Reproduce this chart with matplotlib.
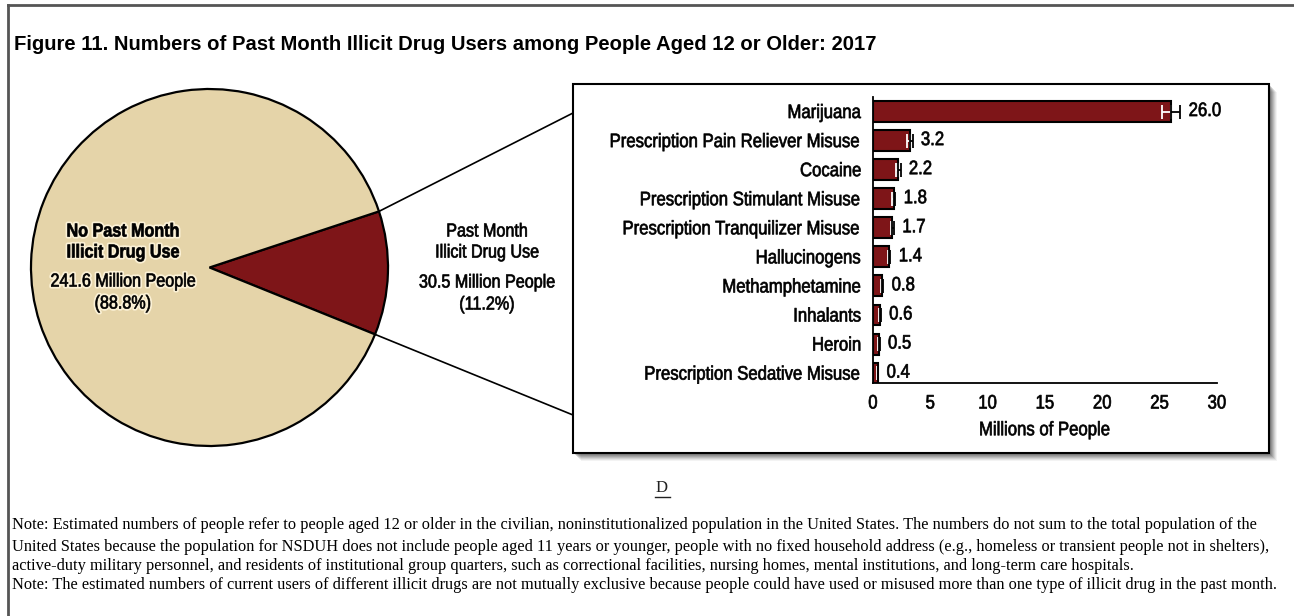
import matplotlib
matplotlib.use('Agg')
import matplotlib.pyplot as plt
import matplotlib.patheffects as pe
from matplotlib.patches import Rectangle, ConnectionPatch
from matplotlib.transforms import Affine2D
import numpy as np

# ── data ──
pie_millions = [30.5, 241.6]
pie_pct = [11.2, 88.8]

drugs = ['Marijuana', 'Prescription Pain Reliever Misuse', 'Cocaine',
         'Prescription Stimulant Misuse', 'Prescription Tranquilizer Misuse',
         'Hallucinogens', 'Methamphetamine', 'Inhalants', 'Heroin',
         'Prescription Sedative Misuse']
users = [26.0, 3.2, 2.2, 1.8, 1.7, 1.4, 0.8, 0.6, 0.5, 0.4]
ci_half = [0.8, 0.25, 0.2, 0.15, 0.13, 0.12, 0.1, 0.08, 0.08, 0.06]
x_ticks = [0, 5, 10, 15, 20, 25, 30]

TITLE = 'Figure 11. Numbers of Past Month Illicit Drug Users among People Aged 12 or Older: 2017'
NOTES = [
    'Note: Estimated numbers of people refer to people aged 12 or older in the civilian, noninstitutionalized population in the United States. The numbers do not sum to the total population of the',
    'United States because the population for NSDUH does not include people aged 11 years or younger, people with no fixed household address (e.g., homeless or transient people not in shelters),',
    'active-duty military personnel, and residents of institutional group quarters, such as correctional facilities, nursing homes, mental institutions, and long-term care hospitals.',
    'Note: The estimated numbers of current users of different illicit drugs are not mutually exclusive because people could have used or misused more than one type of illicit drug in the past month.',
]

RED = '#7E1518'
BEIGE = '#E5D4A9'
SANS = 'Liberation Sans'


class Squeeze(pe.AbstractPathEffect):
    """Narrow the glyphs horizontally (no condensed face installed)."""
    def __init__(self, sx=0.86, align='left', glow=None, thick=0.5):
        super().__init__()
        self.sx, self.align, self.glow, self.thick = sx, align, glow, thick

    def draw_path(self, renderer, gc, tpath, affine, rgbFace=None):
        x1 = tpath.get_extents().x1 if len(tpath.vertices) else 0
        anchor = {'left': 0, 'center': x1 / 2, 'right': x1}[self.align]
        sq = Affine2D().translate(-anchor, 0).scale(self.sx, 1).translate(anchor, 0)
        path = sq.transform_path(tpath)
        if self.glow:
            gc0 = renderer.new_gc()
            gc0.copy_properties(gc)
            gc0.set_foreground(self.glow)
            gc0.set_linewidth(3)
            renderer.draw_path(gc0, path, affine, rgbFace)
            gc0.restore()
        if self.thick:
            gc1 = renderer.new_gc()
            gc1.copy_properties(gc)
            gc1.set_foreground(rgbFace)
            gc1.set_linewidth(self.thick)
            renderer.draw_path(gc1, path, affine, rgbFace)
            gc1.restore()
        else:
            renderer.draw_path(gc, path, affine, rgbFace)


W, H = 1294, 616
fig = plt.figure(figsize=(W / 100, H / 100), dpi=100)
fig.patch.set_facecolor('white')

def fx(px):
    return px / W

def fy(py):
    return 1 - py / H

# outer frame (left + top only)
fig.add_artist(plt.Line2D([fx(8), fx(8)], [fy(5), 0], color='#555555', lw=2))
fig.add_artist(plt.Line2D([fx(8), 1], [fy(5), fy(5)], color='#555555', lw=2))

fig.text(fx(14), fy(44), TITLE, family=SANS, fontweight='bold',
         fontsize=14.6, va='center', ha='left')

# ── pie ──
cx, cy, r = 209.5, 267.5, 178.5
ax_pie = fig.add_axes([fx(cx - r), fy(cy + r), 2 * r / W, 2 * r / H])
start = -22
ax_pie.pie(pie_pct, colors=[RED, BEIGE], startangle=start, counterclock=True,
           wedgeprops=dict(edgecolor='black', linewidth=1.6))
ax_pie.set_xlim(-1, 1)
ax_pie.set_ylim(-1, 1)
ax_pie.set_aspect('auto')
ax_pie.axis('off')

left_lines = [('No Past Month', 'bold', 232), ('Illicit Drug Use', 'bold', 253),
              (f'{pie_millions[1]} Million People', 'normal', 282),
              (f'({pie_pct[1]}%)', 'normal', 304)]
for s, w, y in left_lines:
    fig.text(fx(123), fy(y), s, family=SANS, fontweight=w, fontsize=13.5,
             ha='center', va='center',
             path_effects=[Squeeze(0.86, 'center', glow='#FBF1D6')])
right_lines = [('Past Month', 'normal', 232), ('Illicit Drug Use', 'normal', 253),
               (f'{pie_millions[0]} Million People', 'normal', 283),
               (f'({pie_pct[0]}%)', 'normal', 305)]
for s, w, y in right_lines:
    fig.text(fx(487), fy(y), s, family=SANS, fontweight=w, fontsize=13.5,
             ha='center', va='center', path_effects=[Squeeze(0.86, 'center')])

# ── zoom box with shadow ──
bx0, by0, bx1, by1 = 573, 84, 1269, 453
for k, a in zip(range(8, 0, -1), np.linspace(0.06, 0.25, 8)):
    fig.add_artist(Rectangle((fx(bx0 + k), fy(by1 + k)), (bx1 - bx0) / W, (by1 - by0) / H,
                             transform=fig.transFigure, facecolor='#404040',
                             edgecolor='none', alpha=a, zorder=0))
fig.add_artist(Rectangle((fx(bx0), fy(by1)), (bx1 - bx0) / W, (by1 - by0) / H,
                         transform=fig.transFigure, facecolor='white',
                         edgecolor='black', lw=1.5, zorder=1))

# connector lines from wedge edges to the box
a1 = np.deg2rad(start + pie_pct[0] * 3.6)
a0 = np.deg2rad(start)
for ang, ypx in [(a1, 113), (a0, 415)]:
    con = ConnectionPatch(xyA=(np.cos(ang), np.sin(ang)), coordsA=ax_pie.transData,
                          xyB=(fx(bx0), fy(ypx)), coordsB=fig.transFigure,
                          color='black', lw=1.2, zorder=2)
    fig.add_artist(con)

# ── bar chart ──
ax = fig.add_axes([fx(873), fy(383), 344 / W, 286 / H], zorder=3)
ax.patch.set_alpha(0)
pos = np.arange(len(drugs))
ax.barh(pos, users, height=0.72, color=RED, edgecolor='black', linewidth=1.5, zorder=2)
ax.errorbar(users, pos, xerr=[ci_half, [0] * len(users)], fmt='none', ecolor='white',
            elinewidth=1.3, capsize=5, capthick=1.3, zorder=3)
ax.errorbar(users, pos, xerr=[[0] * len(users), ci_half], fmt='none', ecolor='black',
            elinewidth=1.3, capsize=5, capthick=1.3, zorder=3)
for p, v, e in zip(pos, users, ci_half):
    ax.annotate(f'{v:.1f}', (v + e, p), xytext=(6, 0), textcoords='offset points',
                va='center', ha='left', family=SANS, fontsize=14,
                path_effects=[Squeeze(0.86, 'left')])
ax.set_xlim(0, 30)
ax.set_ylim(9.34, -0.5)
ax.set_xticks(x_ticks)
ax.set_xticklabels([str(t) for t in x_ticks], family=SANS, fontsize=14)
ax.set_yticks(pos)
ax.set_yticklabels(drugs, family=SANS, fontsize=14)
for t in ax.get_yticklabels():
    t.set_path_effects([Squeeze(0.86, 'right')])
for t in ax.get_xticklabels():
    t.set_path_effects([Squeeze(0.86, 'center')])
ax.tick_params(length=0, pad=8)
ax.tick_params(axis='x', pad=9)
for s in ['top', 'right']:
    ax.spines[s].set_visible(False)
ax.spines['left'].set_linewidth(1.3)
ax.spines['bottom'].set_linewidth(1.3)
ax.set_xlabel('Millions of People', family=SANS, fontsize=14, labelpad=7,
              path_effects=[Squeeze(0.86, 'center')])

# ── footer ──
fig.text(fx(662), fy(488), 'D', family='Liberation Serif', fontsize=12,
         ha='center', va='center', color='#222222')
fig.add_artist(plt.Line2D([fx(655), fx(670)], [fy(497), fy(497)], color='#222222', lw=1))
for s, y in zip(NOTES, [525, 547, 566, 585]):
    fig.text(fx(12), fy(y), s, family='Liberation Serif', fontsize=11.75,
             ha='left', va='center')

fig.savefig('out.png', dpi=100)
